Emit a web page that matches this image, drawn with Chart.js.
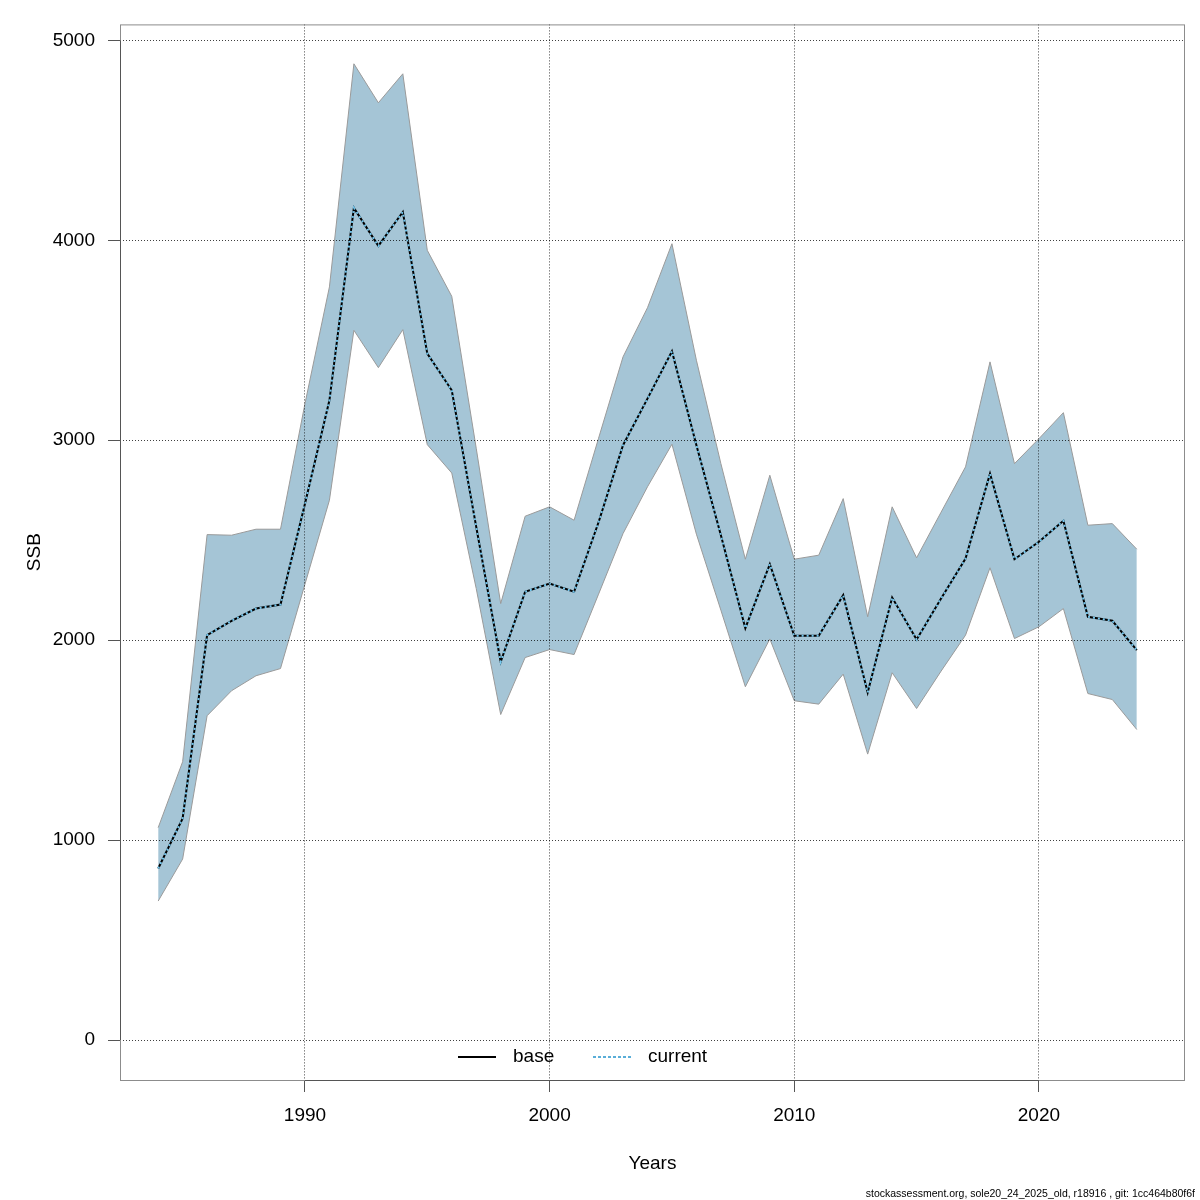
<!DOCTYPE html>
<html>
<head>
<meta charset="utf-8">
<title>SSB</title>
<script src="https://cdn.jsdelivr.net/npm/chart.js@4.4.1/dist/chart.umd.min.js"></script>
<style>
  html, body { margin: 0; padding: 0; background: #ffffff; }
  #chart { display: block; }
</style>
</head>
<body>
<canvas id="chart" width="1200" height="1200"></canvas>
<script>
const years = [1984, 1985, 1986, 1987, 1988, 1989, 1990, 1991, 1992, 1993,
  1994, 1995, 1996, 1997, 1998, 1999, 2000, 2001, 2002, 2003,
  2004, 2005, 2006, 2007, 2008, 2009, 2010, 2011, 2012, 2013,
  2014, 2015, 2016, 2017, 2018, 2019, 2020, 2021, 2022, 2023, 2024];

const ssb = [858, 1108, 2025, 2097, 2158, 2178, 2682, 3200, 4162, 3972,
  4142, 3433, 3250, 2567, 1892, 2242, 2283, 2242, 2590, 2975,
  3208, 3445, 2975, 2525, 2060, 2380, 2022, 2022, 2225, 1738,
  2213, 2003, 2208, 2408, 2833, 2405, 2492, 2597, 2117, 2097, 1950];

const upper = [1062, 1392, 2528, 2525, 2555, 2555, 3183, 3767, 4883, 4688,
  4833, 3950, 3720, 2960, 2183, 2620, 2667, 2600, 3010, 3417,
  3663, 3983, 3400, 2883, 2405, 2825, 2405, 2425, 2708, 2117,
  2667, 2412, 2640, 2867, 3392, 2883, 3008, 3138, 2575, 2583, 2455];

const lower = [695, 905, 1622, 1747, 1822, 1858, 2280, 2700, 3550, 3363,
  3553, 2978, 2836, 2258, 1628, 1913, 1953, 1928, 2230, 2533,
  2767, 2980, 2530, 2150, 1767, 2006, 1697, 1680, 1830, 1430,
  1837, 1658, 1845, 2025, 2362, 2008, 2067, 2158, 1733, 1703, 1553];

const xTicks = [1990, 2000, 2010, 2020];
const yTicks = [0, 1000, 2000, 3000, 4000, 5000];

const FONT = '"Liberation Sans", Arial, sans-serif';
const bandFill = '#a5c5d6';
const bandEdge = '#9a9a9a';
const axisGrey = '#555555';
const boxGrey = '#8c8c8c';

const toPoints = arr => years.map((yr, i) => ({ x: yr, y: arr[i] }));

// box around the plot plus darker axis segments between the outer ticks
const frame = {
  id: 'frame',
  afterDraw(chart) {
    const { ctx, chartArea: a, scales } = chart;
    ctx.save();
    ctx.lineWidth = 1;
    ctx.strokeStyle = boxGrey;
    ctx.strokeRect(a.left + 0.5, a.top + 0.5, a.right - a.left - 1, a.bottom - a.top);
    ctx.strokeStyle = axisGrey;
    ctx.beginPath();
    ctx.moveTo(a.left + 0.5, scales.y.getPixelForValue(yTicks[0]));
    ctx.lineTo(a.left + 0.5, scales.y.getPixelForValue(yTicks[yTicks.length - 1]));
    ctx.moveTo(scales.x.getPixelForValue(xTicks[0]), a.bottom + 0.5);
    ctx.lineTo(scales.x.getPixelForValue(xTicks[xTicks.length - 1]), a.bottom + 0.5);
    ctx.stroke();
    ctx.restore();
  }
};

// R style legend at the bottom of the plot, no box
const lineLegend = {
  id: 'lineLegend',
  afterDraw(chart) {
    const { ctx } = chart;
    const items = chart.data.datasets.filter(d => d.legendLine);
    const y = 1057;
    let x = 458;
    ctx.save();
    ctx.font = '19px ' + FONT;
    ctx.textBaseline = 'middle';
    ctx.textAlign = 'left';
    items.forEach(d => {
      ctx.lineWidth = 2;
      ctx.strokeStyle = d.legendLine;
      ctx.setLineDash(d.legendDash || []);
      ctx.beginPath();
      ctx.moveTo(x, y);
      ctx.lineTo(x + 38, y);
      ctx.stroke();
      ctx.setLineDash([]);
      ctx.fillStyle = '#000000';
      ctx.fillText(d.label, x + 55, y);
      x += 135;
    });
    ctx.font = '10.5px ' + FONT;
    ctx.textAlign = 'right';
    ctx.fillText('stockassessment.org, sole20_24_2025_old, r18916 , git: 1cc464b80f6f', 1195, 1194);
    ctx.restore();
  }
};

new Chart(document.getElementById('chart'), {
  type: 'line',
  data: {
    datasets: [
      {
        label: 'lower',
        data: toPoints(lower),
        borderColor: bandEdge,
        borderWidth: 1,
        pointRadius: 0,
        fill: false,
        order: 3
      },
      {
        label: 'upper',
        data: toPoints(upper),
        borderColor: bandEdge,
        borderWidth: 1,
        backgroundColor: bandFill,
        pointRadius: 0,
        fill: '-1',
        order: 4
      },
      {
        label: 'base',
        data: toPoints(ssb),
        borderColor: '#000000',
        borderWidth: 2,
        pointRadius: 0,
        fill: false,
        order: 2,
        legendLine: '#000000'
      },
      {
        label: 'current',
        data: toPoints(ssb),
        borderColor: '#74c7ee',
        borderWidth: 2,
        borderDash: [2, 3],
        pointRadius: 0,
        fill: false,
        order: 1,
        legendLine: '#5aaed8',
        legendDash: [3, 2]
      }
    ]
  },
  options: {
    responsive: false,
    animation: false,
    devicePixelRatio: 1,
    layout: { padding: { top: 24, right: 15, left: 0, bottom: 0 } },
    plugins: {
      legend: { display: false },
      tooltip: { enabled: false }
    },
    scales: {
      x: {
        type: 'linear',
        min: 1982.44,
        max: 2025.97,
        afterBuildTicks: s => { s.ticks = xTicks.map(v => ({ value: v })); },
        afterFit: s => { s.height = 120; },
        ticks: {
          font: { family: FONT, size: 19 },
          color: '#000000',
          padding: 12,
          maxRotation: 0,
          autoSkip: false,
          callback: v => String(v)
        },
        grid: {
          z: 1,
          color: 'rgba(0,0,0,0.75)',
          lineWidth: 1,
          borderDash: [1, 2],
          tickLength: 12,
          tickColor: axisGrey,
          tickWidth: 1,
          tickBorderDash: []
        },
        border: { display: false, dash: [1, 2] },
        title: {
          display: true,
          text: 'Years',
          color: '#000000',
          font: { family: FONT, size: 19 },
          padding: { top: 0, bottom: 25 }
        }
      },
      y: {
        type: 'linear',
        min: -200,
        max: 5080,
        afterBuildTicks: s => { s.ticks = yTicks.map(v => ({ value: v })); },
        afterFit: s => { s.width = 120; },
        ticks: {
          font: { family: FONT, size: 19 },
          color: '#000000',
          padding: 13,
          autoSkip: false,
          callback: v => String(v)
        },
        grid: {
          z: 1,
          color: 'rgba(0,0,0,0.75)',
          lineWidth: 1,
          borderDash: [1, 2],
          tickLength: 12,
          tickColor: axisGrey,
          tickWidth: 1,
          tickBorderDash: []
        },
        border: { display: false, dash: [1, 2] },
        title: {
          display: true,
          text: 'SSB',
          color: '#000000',
          font: { family: FONT, size: 19 },
          padding: { top: 23, bottom: 0 }
        }
      }
    }
  },
  plugins: [frame, lineLegend]
});
</script>
</body>
</html>
